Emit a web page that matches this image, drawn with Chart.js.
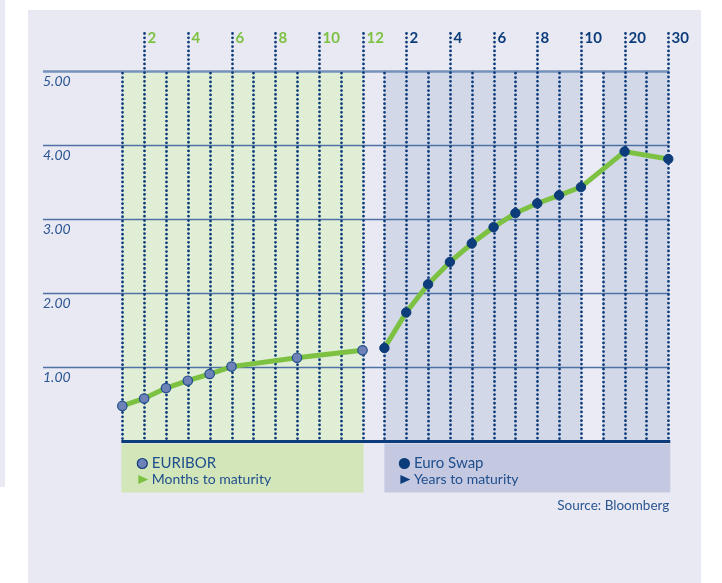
<!DOCTYPE html>
<html>
<head>
<meta charset="utf-8">
<script src="https://cdn.jsdelivr.net/npm/chart.js@4.4.0/dist/chart.umd.min.js"></script>
<style>
  body { margin:0; background:#ffffff; width:722px; height:583px; position:relative; overflow:hidden; }
  #strip { position:absolute; left:0; top:0; width:5px; height:487px; background:#e9e9f3; }
  #panel { position:absolute; left:28px; top:10px; width:673px; height:573px; background:#e9e9f3; }
  canvas { position:absolute; left:0; top:0; }
</style>
</head>
<body>
<div id="strip"></div>
<div id="panel"><canvas id="grafico" width="673" height="573"></canvas></div>
<script>
// maturities
var months = ['1','2','3','4','5','6','7','8','9','10','11','12'];
var years = ['1','2','3','4','5','6','7','8','9','10','15','20','25','30'];
// rates in %
var euribor = [0.48, 0.58, 0.72, 0.82, 0.91, 1.01, null, null, 1.13, null, null, 1.23];
var euroSwap = [1.26, 1.74, 2.12, 2.42, 2.67, 2.89, 3.08, 3.21, 3.32, 3.43, null, 3.91, null, 3.81];
// labels on top
var monthTicks = ['2','4','6','8','10','12'];
var yearTicks = ['2','4','6','8','10','20','30'];
var yTicks = [1, 2, 3, 4, 5];

var labels = months.map(function(m){ return m + 'M'; }).concat(years.map(function(y){ return y + 'Y'; }));
var swapData = months.map(function(){ return null; }).concat(euroSwap);

var green = '#7dc142';
var navy = '#0d3c7a';
var textBlue = '#1f4e8c';
var fonte = 'Lato';

var fundo = {
  id: 'fundo',
  beforeDatasetsDraw: function(chart) {
    var c = chart.ctx;
    var xs = chart.scales.x, ys = chart.scales.y;
    var top = ys.getPixelForValue(5), bottom = ys.getPixelForValue(0);
    var x = function(i){ return xs.getPixelForValue(i); };
    c.save();
    // bands
    c.fillStyle = '#e0eed6';
    c.fillRect(x(0), top, x(11) - x(0), bottom - top);
    c.fillStyle = '#d3d8e9';
    c.fillRect(x(12), top, x(21) - x(12), bottom - top);
    c.fillRect(x(22), top, x(25) - x(22), bottom - top);
    c.fillStyle = '#ebebf5';
    c.fillRect(x(21), top, x(22) - x(21), bottom - top);

    // y grid + labels
    yTicks.forEach(function(v){
      var py = Math.round(ys.getPixelForValue(v)) + 0.5;
      c.beginPath();
      c.strokeStyle = v == 5 ? '#7592bb' : '#4d72a3';
      c.lineWidth = v == 5 ? 2.5 : 1.3;
      c.moveTo(15, py);
      c.lineTo(x(25) + 1, py);
      c.stroke();
      c.fillStyle = '#2b5592';
      c.font = 'italic 14px ' + fonte;
      c.textAlign = 'left';
      c.textBaseline = 'middle';
      c.fillText(v.toFixed(2), 15, py + 10);
    });

    // dotted verticals
    c.strokeStyle = navy;
    c.lineWidth = 2.8;
    c.lineCap = 'round';
    c.setLineDash([0, 4.35]);
    labels.forEach(function(l, i){
      var num = l.slice(0, -1);
      var isM = l.slice(-1) == 'M';
      var tick = isM ? monthTicks.indexOf(num) >= 0 : yearTicks.indexOf(num) >= 0;
      var px = Math.round(x(i)) + 0.5;
      c.beginPath();
      c.moveTo(px, tick ? 23.5 : top + 2.5);
      c.lineTo(px, bottom);
      c.stroke();
      if (tick) {
        c.fillStyle = isM ? green : navy;
        c.font = 'bold 15px ' + fonte;
        c.textAlign = 'left';
        c.textBaseline = 'middle';
        c.fillText(num, px + 3, 28.5);
      }
    });
    c.setLineDash([]);

    // baseline
    c.beginPath();
    c.strokeStyle = navy;
    c.lineWidth = 3;
    c.lineCap = 'butt';
    c.moveTo(x(0) - 1, bottom);
    c.lineTo(x(25) + 2, bottom);
    c.stroke();

    // legend boxes
    var ly = bottom + 2, lh = 49;
    c.fillStyle = '#d2e6b9';
    c.fillRect(x(0) - 1, ly, x(11) - x(0) + 2, lh);
    c.fillStyle = '#c4c9e1';
    c.fillRect(x(12), ly, x(25) - x(12) + 2, lh);

    function item(bx, name, sub, fill, tri) {
      c.beginPath();
      c.arc(bx + 20, ly + 20, 5, 0, Math.PI * 2);
      c.fillStyle = fill;
      c.fill();
      c.lineWidth = 1.2;
      c.strokeStyle = navy;
      c.stroke();
      c.beginPath();
      c.moveTo(bx + 16, ly + 31.5);
      c.lineTo(bx + 26, ly + 36);
      c.lineTo(bx + 16, ly + 40.5);
      c.closePath();
      c.fillStyle = tri;
      c.fill();
      c.fillStyle = textBlue;
      c.textAlign = 'left';
      c.textBaseline = 'middle';
      c.font = '15px ' + fonte;
      c.fillText(name, bx + 29.5, ly + 20);
      c.font = '14px ' + fonte;
      c.fillText(sub, bx + 29.5, ly + 36);
    }
    item(x(0), 'EURIBOR', 'Months to maturity', '#6e82b8', green);
    item(x(12), 'Euro Swap', 'Years to maturity', navy, navy);

    c.fillStyle = '#2a5590';
    c.font = '13.5px ' + fonte;
    c.textAlign = 'right';
    c.textBaseline = 'middle';
    c.fillText('Source: Bloomberg', x(25) + 1, bottom + 64.5);
    c.restore();
  }
};

var ctx = document.getElementById('grafico').getContext('2d');
var myChart = new Chart(ctx, {
  type: 'line',
  data: {
    labels: labels,
    datasets: [
      {
        label: 'EURIBOR',
        data: euribor,
        borderColor: green,
        borderWidth: 5,
        pointRadius: 4.7,
        pointBackgroundColor: '#6e82b8',
        pointBorderColor: '#1f4e8c',
        pointBorderWidth: 1.2,
        spanGaps: true,
        clip: false,
        fill: false
      },
      {
        label: 'Euro Swap',
        data: swapData,
        borderColor: green,
        borderWidth: 5,
        pointRadius: 4.7,
        pointBackgroundColor: navy,
        pointBorderColor: navy,
        pointBorderWidth: 1,
        spanGaps: true,
        clip: false,
        fill: false
      }
    ]
  },
  options: {
    responsive: false,
    animation: false,
    layout: { padding: { left: 94.3, right: 32.7, top: 60.7, bottom: 141.5 } },
    plugins: { legend: { display: false }, tooltip: { enabled: false } },
    scales: {
      x: { type: 'category', offset: false, display: false },
      y: { min: 0, max: 5, display: false }
    }
  },
  plugins: [fundo]
});
</script>
</body>
</html>
